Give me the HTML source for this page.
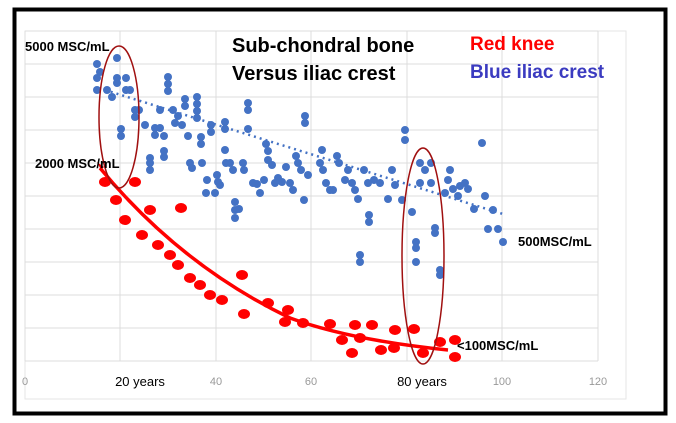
<!DOCTYPE html><html><head><meta charset="utf-8"><style>body{margin:0;background:#fff}svg{display:block}</style></head><body>
<svg width="676" height="423" viewBox="0 0 676 423" font-family="Liberation Sans, sans-serif">
<rect x="0" y="0" width="676" height="423" fill="#fff"/>
<rect x="14.5" y="9.5" width="651" height="404" fill="none" stroke="#000" stroke-width="4"/>
<rect x="25" y="31" width="601" height="368" fill="none" stroke="#e6e6e6"/>
<g stroke="#dcdcdc" stroke-width="1">
<line x1="25" y1="31" x2="598" y2="31"/><line x1="25" y1="64" x2="598" y2="64"/><line x1="25" y1="97" x2="598" y2="97"/><line x1="25" y1="130" x2="598" y2="130"/><line x1="25" y1="163" x2="598" y2="163"/><line x1="25" y1="196" x2="598" y2="196"/><line x1="25" y1="229" x2="598" y2="229"/><line x1="25" y1="262" x2="598" y2="262"/><line x1="25" y1="295" x2="598" y2="295"/><line x1="25" y1="328" x2="598" y2="328"/><line x1="25" y1="361" x2="598" y2="361"/>
<line x1="25" y1="31" x2="25" y2="361"/><line x1="120" y1="31" x2="120" y2="361"/><line x1="216" y1="31" x2="216" y2="361"/><line x1="311" y1="31" x2="311" y2="361"/><line x1="407" y1="31" x2="407" y2="361"/><line x1="502" y1="31" x2="502" y2="361"/><line x1="598" y1="31" x2="598" y2="361"/>
</g>
<g fill="#4472c4">
<circle cx="97" cy="64" r="4"/><circle cx="100" cy="72" r="4"/><circle cx="97" cy="78" r="4"/><circle cx="97" cy="90" r="4"/><circle cx="107" cy="90" r="4"/><circle cx="112" cy="97" r="4"/><circle cx="117" cy="58" r="4"/><circle cx="117" cy="78" r="4"/><circle cx="117" cy="83" r="4"/><circle cx="126" cy="78" r="4"/><circle cx="126" cy="90" r="4"/><circle cx="130" cy="90" r="4"/><circle cx="121" cy="129" r="4"/><circle cx="121" cy="136" r="4"/><circle cx="135" cy="110" r="4"/><circle cx="135" cy="117" r="4"/><circle cx="139" cy="110" r="4"/>
<circle cx="145" cy="125" r="4"/><circle cx="150" cy="158" r="4"/><circle cx="150" cy="163" r="4"/><circle cx="150" cy="170" r="4"/><circle cx="155" cy="128" r="4"/><circle cx="155" cy="135" r="4"/><circle cx="160" cy="110" r="4"/><circle cx="160" cy="128" r="4"/><circle cx="164" cy="136" r="4"/><circle cx="164" cy="151" r="4"/><circle cx="164" cy="157" r="4"/><circle cx="168" cy="77" r="4"/><circle cx="168" cy="84" r="4"/><circle cx="168" cy="91" r="4"/><circle cx="173" cy="110" r="4"/><circle cx="175" cy="123" r="4"/><circle cx="178" cy="116" r="4"/><circle cx="182" cy="125" r="4"/><circle cx="185" cy="99" r="4"/><circle cx="185" cy="106" r="4"/><circle cx="188" cy="136" r="4"/><circle cx="190" cy="163" r="4"/><circle cx="192" cy="168" r="4"/>
<circle cx="197" cy="97" r="4"/><circle cx="197" cy="104" r="4"/><circle cx="197" cy="111" r="4"/><circle cx="197" cy="118" r="4"/><circle cx="201" cy="137" r="4"/><circle cx="201" cy="144" r="4"/><circle cx="202" cy="163" r="4"/><circle cx="206" cy="193" r="4"/><circle cx="207" cy="180" r="4"/><circle cx="211" cy="125" r="4"/><circle cx="211" cy="132" r="4"/><circle cx="215" cy="193" r="4"/><circle cx="217" cy="175" r="4"/><circle cx="218" cy="182" r="4"/><circle cx="220" cy="185" r="4"/><circle cx="225" cy="122" r="4"/><circle cx="225" cy="129" r="4"/><circle cx="225" cy="150" r="4"/><circle cx="226" cy="163" r="4"/><circle cx="230" cy="163" r="4"/><circle cx="233" cy="170" r="4"/><circle cx="235" cy="202" r="4"/><circle cx="235" cy="210" r="4"/><circle cx="235" cy="218" r="4"/><circle cx="239" cy="209" r="4"/>
<circle cx="243" cy="163" r="4"/><circle cx="244" cy="170" r="4"/><circle cx="248" cy="103" r="4"/><circle cx="248" cy="110" r="4"/><circle cx="248" cy="129" r="4"/><circle cx="253" cy="183" r="4"/><circle cx="257" cy="184" r="4"/><circle cx="260" cy="193" r="4"/><circle cx="264" cy="180" r="4"/><circle cx="266" cy="144" r="4"/><circle cx="268" cy="151" r="4"/><circle cx="268" cy="160" r="4"/><circle cx="272" cy="165" r="4"/><circle cx="275" cy="183" r="4"/><circle cx="278" cy="178" r="4"/><circle cx="282" cy="182" r="4"/><circle cx="286" cy="167" r="4"/><circle cx="290" cy="183" r="4"/><circle cx="293" cy="190" r="4"/><circle cx="296" cy="156" r="4"/><circle cx="298" cy="163" r="4"/><circle cx="301" cy="170" r="4"/><circle cx="305" cy="116" r="4"/><circle cx="305" cy="123" r="4"/><circle cx="304" cy="200" r="4"/><circle cx="308" cy="175" r="4"/>
<circle cx="320" cy="163" r="4"/><circle cx="322" cy="150" r="4"/><circle cx="323" cy="170" r="4"/><circle cx="326" cy="183" r="4"/><circle cx="330" cy="190" r="4"/><circle cx="333" cy="190" r="4"/><circle cx="337" cy="156" r="4"/><circle cx="339" cy="163" r="4"/><circle cx="345" cy="180" r="4"/><circle cx="348" cy="170" r="4"/><circle cx="352" cy="183" r="4"/><circle cx="355" cy="190" r="4"/><circle cx="358" cy="199" r="4"/><circle cx="360" cy="255" r="4"/><circle cx="360" cy="262" r="4"/><circle cx="364" cy="170" r="4"/><circle cx="368" cy="183" r="4"/><circle cx="369" cy="215" r="4"/><circle cx="369" cy="222" r="4"/><circle cx="374" cy="180" r="4"/><circle cx="380" cy="183" r="4"/><circle cx="388" cy="199" r="4"/><circle cx="392" cy="170" r="4"/><circle cx="395" cy="185" r="4"/>
<circle cx="402" cy="200" r="4"/><circle cx="405" cy="130" r="4"/><circle cx="405" cy="140" r="4"/><circle cx="412" cy="212" r="4"/><circle cx="416" cy="242" r="4"/><circle cx="416" cy="248" r="4"/><circle cx="416" cy="262" r="4"/><circle cx="420" cy="163" r="4"/><circle cx="420" cy="183" r="4"/><circle cx="425" cy="170" r="4"/><circle cx="431" cy="163" r="4"/><circle cx="431" cy="183" r="4"/><circle cx="435" cy="228" r="4"/><circle cx="435" cy="233" r="4"/><circle cx="440" cy="270" r="4"/><circle cx="440" cy="275" r="4"/><circle cx="445" cy="193" r="4"/><circle cx="448" cy="180" r="4"/><circle cx="450" cy="170" r="4"/><circle cx="453" cy="189" r="4"/><circle cx="458" cy="196" r="4"/><circle cx="460" cy="186" r="4"/><circle cx="465" cy="183" r="4"/><circle cx="468" cy="189" r="4"/><circle cx="474" cy="209" r="4"/><circle cx="482" cy="143" r="4"/><circle cx="485" cy="196" r="4"/><circle cx="488" cy="229" r="4"/><circle cx="498" cy="229" r="4"/><circle cx="503" cy="242" r="4"/><circle cx="493" cy="210" r="4"/>
</g>
<line x1="105" y1="90" x2="503" y2="214" stroke="#4472c4" stroke-width="2.5" stroke-dasharray="2,4"/>
<g fill="#f00">
<ellipse cx="105" cy="182" rx="6" ry="5"/><ellipse cx="135" cy="182" rx="6" ry="5"/><ellipse cx="116" cy="200" rx="6" ry="5"/><ellipse cx="150" cy="210" rx="6" ry="5"/><ellipse cx="181" cy="208" rx="6" ry="5"/><ellipse cx="125" cy="220" rx="6" ry="5"/><ellipse cx="142" cy="235" rx="6" ry="5"/><ellipse cx="158" cy="245" rx="6" ry="5"/><ellipse cx="170" cy="255" rx="6" ry="5"/><ellipse cx="178" cy="265" rx="6" ry="5"/><ellipse cx="190" cy="278" rx="6" ry="5"/><ellipse cx="200" cy="285" rx="6" ry="5"/><ellipse cx="210" cy="295" rx="6" ry="5"/><ellipse cx="222" cy="300" rx="6" ry="5"/><ellipse cx="242" cy="275" rx="6" ry="5"/><ellipse cx="244" cy="314" rx="6" ry="5"/><ellipse cx="268" cy="303" rx="6" ry="5"/><ellipse cx="288" cy="310" rx="6" ry="5"/><ellipse cx="285" cy="322" rx="6" ry="5"/><ellipse cx="303" cy="323" rx="6" ry="5"/><ellipse cx="330" cy="324" rx="6" ry="5"/><ellipse cx="342" cy="340" rx="6" ry="5"/><ellipse cx="355" cy="325" rx="6" ry="5"/><ellipse cx="352" cy="353" rx="6" ry="5"/><ellipse cx="360" cy="338" rx="6" ry="5"/><ellipse cx="372" cy="325" rx="6" ry="5"/><ellipse cx="381" cy="350" rx="6" ry="5"/><ellipse cx="394" cy="348" rx="6" ry="5"/><ellipse cx="395" cy="330" rx="6" ry="5"/><ellipse cx="414" cy="329" rx="6" ry="5"/><ellipse cx="423" cy="353" rx="6" ry="5"/><ellipse cx="440" cy="342" rx="6" ry="5"/><ellipse cx="455" cy="340" rx="6" ry="5"/><ellipse cx="455" cy="357" rx="6" ry="5"/>
</g>
<path d="M100,168 Q180,265 290,318 Q350,340 448,350" fill="none" stroke="#f00" stroke-width="3.5"/>
<path d="M97,162 l4,8 l3,-3 z" fill="#e00"/>
<ellipse cx="119" cy="117" rx="20" ry="71" fill="none" stroke="#a01010" stroke-width="1.5"/>
<ellipse cx="423" cy="256" rx="21" ry="108" fill="none" stroke="#a01010" stroke-width="1.5"/>
<g font-weight="bold" font-size="13" fill="#000">
<text x="25" y="51">5000 MSC/mL</text>
<text x="35" y="168">2000 MSC/mL</text>
<text x="518" y="246">500MSC/mL</text>
<text x="457" y="350">&lt;100MSC/mL</text>
</g>
<g font-weight="bold" font-size="20" fill="#000">
<text x="232" y="52">Sub-chondral bone</text>
<text x="232" y="80">Versus iliac crest</text>
</g>
<text x="470" y="50" font-weight="bold" font-size="19" fill="#f00">Red knee</text>
<text x="470" y="78" font-weight="bold" font-size="19" fill="#3b3bc0">Blue iliac crest</text>
<g font-size="11" fill="#999" text-anchor="middle">
<text x="25" y="385">0</text><text x="216" y="385">40</text><text x="311" y="385">60</text><text x="502" y="385">100</text><text x="598" y="385">120</text>
</g>
<g font-size="13" fill="#000" text-anchor="middle">
<text x="140" y="386">20 years</text><text x="422" y="386">80 years</text>
</g>
</svg>
</body></html>
